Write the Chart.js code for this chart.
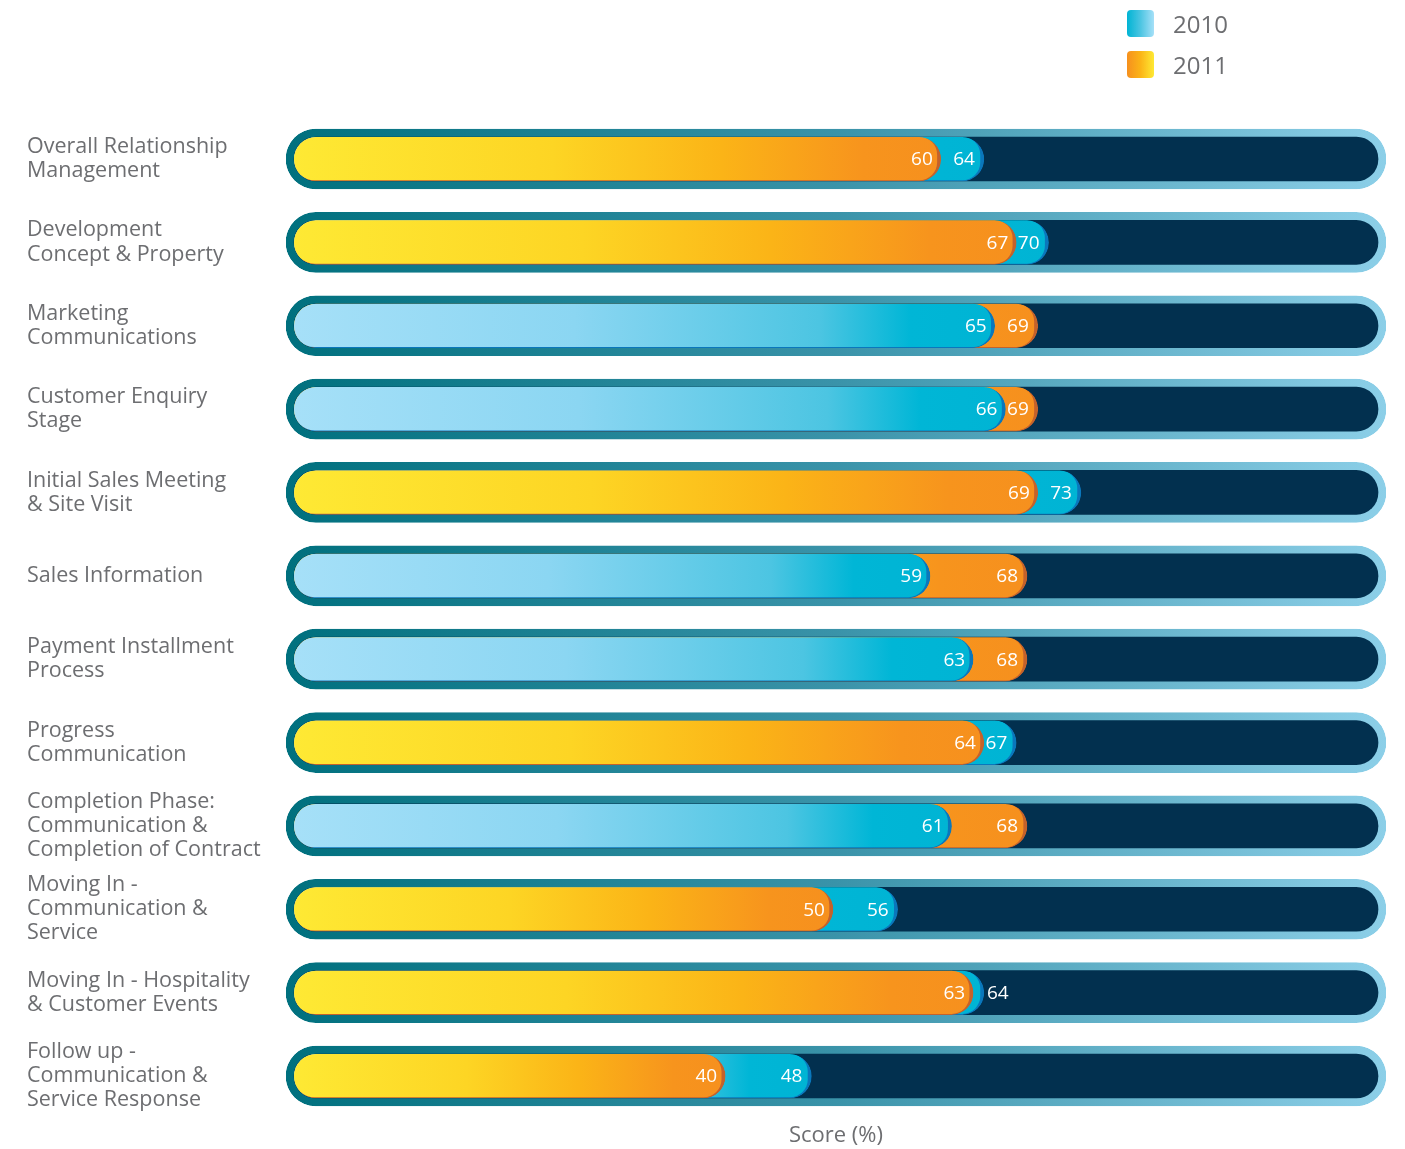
<!DOCTYPE html>
<html>
<head>
<meta charset="utf-8">
<script src="https://cdn.jsdelivr.net/npm/chart.js@4.4.1/dist/chart.umd.min.js"></script>
<style>
  html, body { margin: 0; padding: 0; background: #fff; }
  #wrap { position: relative; width: 1405px; height: 1149px; }
  #legend { position: absolute; left: 1127px; top: 10px; font-family: "Open Sans", sans-serif; font-size: 24px; color: #6d6e71; }
  #legend .item { display: flex; align-items: center; height: 27px; margin-bottom: 14px; }
  #legend .sw { width: 27px; height: 27px; border-radius: 4px; margin-right: 19px; }
</style>
</head>
<body>
<div id="wrap">
  <canvas id="chart" width="1405" height="1149"></canvas>
  <div id="legend"></div>
</div>
<script>
const categories = [
  ["Overall Relationship", "Management"],
  ["Development", "Concept & Property"],
  ["Marketing", "Communications"],
  ["Customer Enquiry", "Stage"],
  ["Initial Sales Meeting", "& Site Visit"],
  "Sales Information",
  ["Payment Installment", "Process"],
  ["Progress", "Communication"],
  ["Completion Phase:", "Communication &", "Completion of Contract"],
  ["Moving In -", "Communication &", "Service"],
  ["Moving In - Hospitality", "& Customer Events"],
  ["Follow up -", "Communication &", "Service Response"]
];
const years = ["2010", "2011"];
const score2010 = [64, 70, 65, 66, 73, 59, 63, 67, 61, 56, 64, 48];
const score2011 = [60, 67, 69, 69, 69, 68, 68, 64, 68, 50, 63, 40];

const X_MIN = -0.74;
const X_MAX = 101.3;

// colours per year
const stops = {
  "2010": [[0, "#a6e0f8"], [0.4, "#8bd6f2"], [0.75, "#4cc5e2"], [0.88, "#00b6d6"], [1, "#00b4d4"]],
  "2011": [[0, "#fee934"], [0.4, "#fdd524"], [0.66, "#fbb417"], [0.88, "#f7941d"], [1, "#f6901e"]]
};
const edge = { "2010": "#0a77bc", "2011": "#c4622b" };
const flat = { "2010": "#00b4d4", "2011": "#f7941d" };

// the shorter bar of each row goes in front
const frontYear = score2010.map((v, i) => v <= score2011[i] ? "2010" : "2011");
const backYear = frontYear.map(y => y === "2010" ? "2011" : "2010");
const valueOf = (year, i) => year === "2010" ? score2010[i] : score2011[i];
const frontData = frontYear.map((y, i) => valueOf(y, i));
const backData = backYear.map((y, i) => valueOf(y, i));

function barFill(yearList) {
  return ctx => {
    const year = yearList[ctx.dataIndex];
    const chart = ctx.chart;
    const x = chart.scales.x;
    if (!chart.chartArea || !x) return flat[year];
    const x0 = x.getPixelForValue(0);
    const x1 = x.getPixelForValue(valueOf(year, ctx.dataIndex));
    const g = chart.ctx.createLinearGradient(x0, 0, x1, 0);
    stops[year].forEach(s => g.addColorStop(s[0], s[1]));
    return g;
  };
}

function trackBorder(ctx) {
  const chart = ctx.chart;
  if (!chart.chartArea) return "#3f95aa";
  const a = chart.chartArea;
  const g = chart.ctx.createLinearGradient(a.left, 0, a.right, 0);
  g.addColorStop(0, "#00707e");
  g.addColorStop(0.5, "#3a93a9");
  g.addColorStop(1, "#8ccfe8");
  return g;
}

const valueLabels = {
  id: "valueLabels",
  afterDatasetsDraw(chart) {
    const ctx = chart.ctx;
    const front = chart.getDatasetMeta(2).data;
    const back = chart.getDatasetMeta(1).data;
    ctx.save();
    ctx.fillStyle = "#ffffff";
    ctx.font = '19px "Open Sans", sans-serif';
    ctx.textBaseline = "middle";
    front.forEach((el, i) => {
      ctx.textAlign = "right";
      ctx.fillText(String(frontData[i]), el.x - 8, el.y + 1);
      const b = back[i];
      if (b.x - el.x < 32) {
        ctx.textAlign = "left";
        ctx.fillText(String(backData[i]), b.x + 3, b.y + 1);
      } else {
        ctx.textAlign = "right";
        ctx.fillText(String(backData[i]), b.x - 9, b.y + 1);
      }
    });
    ctx.restore();
  }
};

const chart = new Chart(document.getElementById("chart"), {
  type: "bar",
  data: {
    labels: categories,
    datasets: [
      {
        label: "track",
        data: categories.map(() => [X_MIN, X_MAX]),
        backgroundColor: "#02304f",
        borderColor: trackBorder,
        borderWidth: 8,
        borderRadius: 30,
        borderSkipped: false,
        barThickness: 60,
        grouped: false,
        order: 3
      },
      {
        label: "back",
        data: backData,
        backgroundColor: barFill(backYear),
        borderColor: ctx => edge[backYear[ctx.dataIndex]],
        borderWidth: { top: 0, right: 4, bottom: 1, left: 0 },
        borderRadius: 22,
        borderSkipped: false,
        barThickness: 44,
        grouped: false,
        order: 2
      },
      {
        label: "front",
        data: frontData,
        backgroundColor: barFill(frontYear),
        borderColor: ctx => edge[frontYear[ctx.dataIndex]],
        borderWidth: { top: 0, right: 4, bottom: 1, left: 0 },
        borderRadius: 22,
        borderSkipped: false,
        barThickness: 44,
        grouped: false,
        order: 1
      }
    ]
  },
  options: {
    indexAxis: "y",
    responsive: false,
    animation: false,
    layout: { padding: { top: 117.3, left: 27, right: 19, bottom: 0 } },
    plugins: {
      legend: { display: false },
      tooltip: { enabled: false }
    },
    scales: {
      x: {
        min: X_MIN,
        max: X_MAX,
        grid: { display: false },
        border: { display: false },
        ticks: { display: false },
        title: {
          display: true,
          text: "Score (%)",
          color: "#6d6e71",
          font: { family: "Open Sans", size: 22 },
          padding: 0
        },
        afterFit(scale) { scale.height = 31.3; }
      },
      y: {
        grid: { display: false },
        border: { display: false },
        ticks: {
          autoSkip: false,
          crossAlign: "far",
          color: "#6d6e71",
          font: { family: "Open Sans", size: 21.5, lineHeight: 1.12 }
        },
        afterFit(scale) { scale.width = 259; }
      }
    }
  },
  plugins: [valueLabels]
});

// legend built from the year list
const legendEl = document.getElementById("legend");
years.forEach(y => {
  const s = stops[y];
  const item = document.createElement("div");
  item.className = "item";
  item.innerHTML = `<div class="sw" style="background: linear-gradient(to right, ${s[s.length - 1][1]}, ${s[Math.floor(s.length / 2)][1]}, ${s[0][1]})"></div><span>${y}</span>`;
  legendEl.appendChild(item);
});
</script>
</body>
</html>
